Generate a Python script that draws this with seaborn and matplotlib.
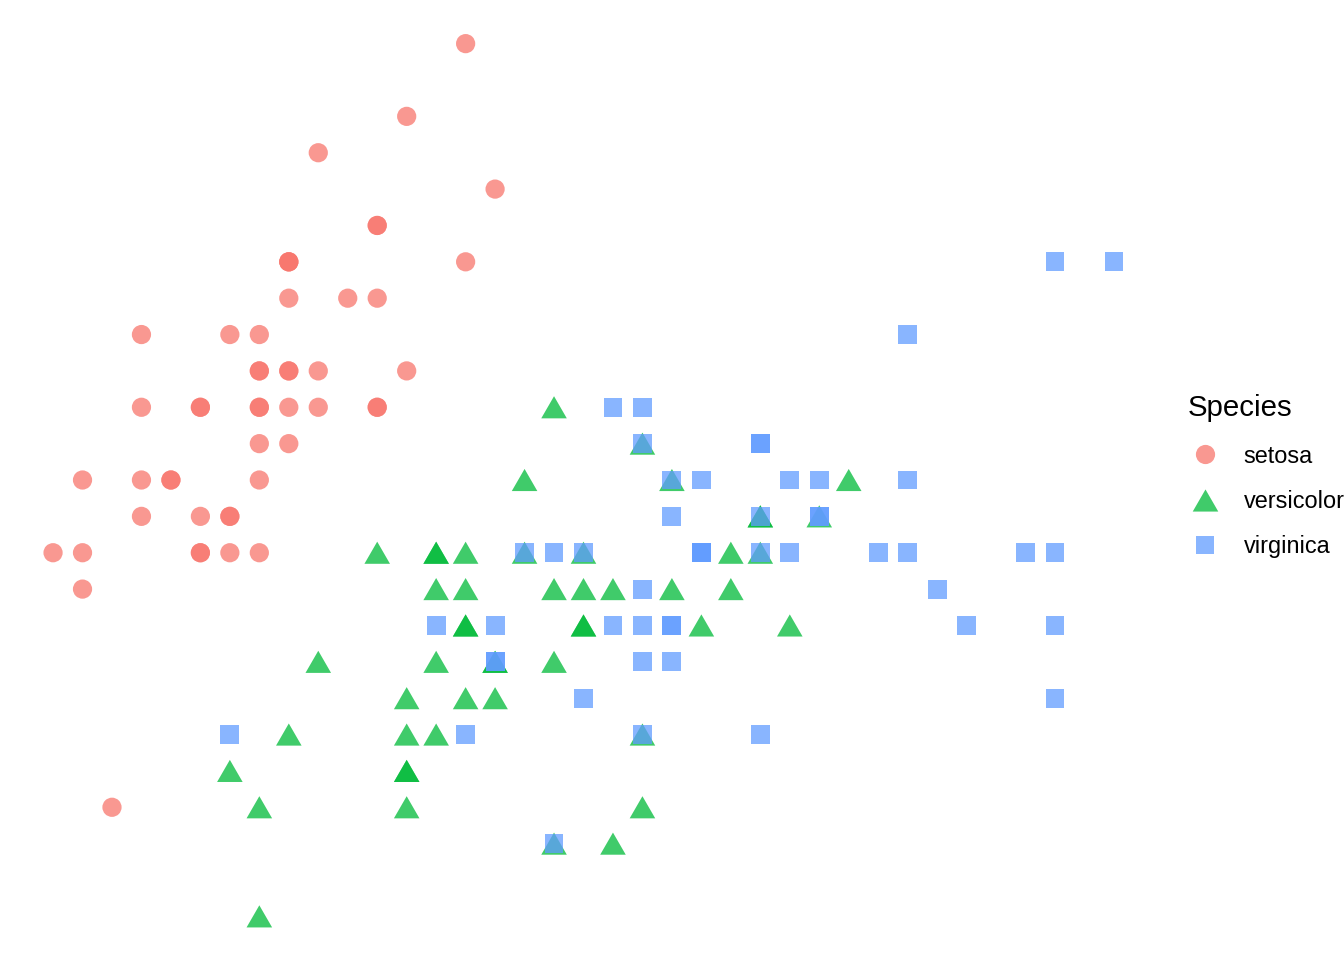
import numpy as np
import pandas as pd
import seaborn as sns
import matplotlib.pyplot as plt
from matplotlib.lines import Line2D

setosa_len = [5.1, 4.9, 4.7, 4.6, 5.0, 5.4, 4.6, 5.0, 4.4, 4.9, 5.4, 4.8, 4.8, 4.3, 5.8, 5.7, 5.4, 5.1, 5.7, 5.1,
              5.4, 5.1, 4.6, 5.1, 4.8, 5.0, 5.0, 5.2, 5.2, 4.7, 4.8, 5.4, 5.2, 5.5, 4.9, 5.0, 5.5, 4.9, 4.4, 5.1,
              5.0, 4.5, 4.4, 5.0, 5.1, 4.8, 5.1, 4.6, 5.3, 5.0]
setosa_wid = [3.5, 3.0, 3.2, 3.1, 3.6, 3.9, 3.4, 3.4, 2.9, 3.1, 3.7, 3.4, 3.0, 3.0, 4.0, 4.4, 3.9, 3.5, 3.8, 3.8,
              3.4, 3.7, 3.6, 3.3, 3.4, 3.0, 3.4, 3.5, 3.4, 3.2, 3.1, 3.4, 4.1, 4.2, 3.1, 3.2, 3.5, 3.6, 3.0, 3.4,
              3.5, 2.3, 3.2, 3.5, 3.8, 3.0, 3.8, 3.2, 3.7, 3.3]
versicolor_len = [7.0, 6.4, 6.9, 5.5, 6.5, 5.7, 6.3, 4.9, 6.6, 5.2, 5.0, 5.9, 6.0, 6.1, 5.6, 6.7, 5.6, 5.8, 6.2, 5.6,
                  5.9, 6.1, 6.3, 6.1, 6.4, 6.6, 6.8, 6.7, 6.0, 5.7, 5.5, 5.5, 5.8, 6.0, 5.4, 6.0, 6.7, 6.3, 5.6, 5.5,
                  5.5, 6.1, 5.8, 5.0, 5.6, 5.7, 5.7, 6.2, 5.1, 5.7]
versicolor_wid = [3.2, 3.2, 3.1, 2.3, 2.8, 2.8, 3.3, 2.4, 2.9, 2.7, 2.0, 3.0, 2.2, 2.9, 2.9, 3.1, 3.0, 2.7, 2.2, 2.5,
                  3.2, 2.8, 2.5, 2.8, 2.9, 3.0, 2.8, 3.0, 2.9, 2.6, 2.4, 2.4, 2.7, 2.7, 3.0, 3.4, 3.1, 2.3, 3.0, 2.5,
                  2.6, 3.0, 2.6, 2.3, 2.7, 3.0, 2.9, 2.9, 2.5, 2.8]
virginica_len = [6.3, 5.8, 7.1, 6.3, 6.5, 7.6, 4.9, 7.3, 6.7, 7.2, 6.5, 6.4, 6.8, 5.7, 5.8, 6.4, 6.5, 7.7, 7.7, 6.0,
                 6.9, 5.6, 7.7, 6.3, 6.7, 7.2, 6.2, 6.1, 6.4, 7.2, 7.4, 7.9, 6.4, 6.3, 6.1, 7.7, 6.3, 6.4, 6.0, 6.9,
                 6.7, 6.9, 5.8, 6.8, 6.7, 6.7, 6.3, 6.5, 6.2, 5.9]
virginica_wid = [3.3, 2.7, 3.0, 2.9, 3.0, 3.0, 2.5, 2.9, 2.5, 3.6, 3.2, 2.7, 3.0, 2.5, 2.8, 3.2, 3.0, 3.8, 2.6, 2.2,
                 3.2, 2.8, 2.8, 2.7, 3.3, 3.2, 2.8, 3.0, 2.8, 3.0, 2.8, 3.8, 2.8, 2.8, 2.6, 3.0, 3.4, 3.1, 3.0, 3.1,
                 3.1, 3.1, 2.7, 3.2, 3.3, 3.0, 2.5, 3.0, 3.4, 3.0]

species = ["setosa", "versicolor", "virginica"]
colors = {"setosa": "#F8766D", "versicolor": "#00BA38", "virginica": "#619CFF"}
tri = [(-1, -0.866), (1, -0.866), (0, 0.866)]
markers = {"setosa": "o", "versicolor": tri, "virginica": "s"}
sizes = {"setosa": 52, "versicolor": 92, "virginica": 50}

df = pd.DataFrame({
    "Sepal.Length": setosa_len + versicolor_len + virginica_len,
    "Sepal.Width": setosa_wid + versicolor_wid + virginica_wid,
    "Species": ["setosa"] * 50 + ["versicolor"] * 50 + ["virginica"] * 50,
})

plt.rcParams["font.family"] = ["Liberation Sans", "DejaVu Sans"]
fig = plt.figure(figsize=(7, 5), dpi=192)
ax = fig.add_axes([0.0, 0.0, 1167 / 1344, 1.0])

sns.scatterplot(data=df, x="Sepal.Length", y="Sepal.Width", hue="Species", style="Species",
                size="Species", palette=colors, markers=markers, sizes=sizes,
                alpha=0.75, linewidth=0, legend=False, ax=ax)

xmin, xmax = df["Sepal.Length"].min(), df["Sepal.Length"].max()
ymin, ymax = df["Sepal.Width"].min(), df["Sepal.Width"].max()
ax.set_xlim(xmin - 0.05 * (xmax - xmin), xmax + 0.05 * (xmax - xmin))
ax.set_ylim(ymin - 0.05 * (ymax - ymin), ymax + 0.05 * (ymax - ymin))
ax.set_axis_off()

handles = [Line2D([], [], linestyle="none", marker=markers[s], color=colors[s], alpha=0.75,
                  markeredgewidth=0, markersize=np.sqrt(sizes[s])) for s in species]
leg = fig.legend(handles, species, title="Species", loc="upper left",
                 bbox_to_anchor=(1178 / 1344, 1 - 385 / 960), frameon=False,
                 fontsize=8.8, title_fontsize=11, labelspacing=0.95, handletextpad=0.9,
                 handlelength=1.5, borderaxespad=0)
leg._legend_box.align = "left"

fig.savefig("out.png", dpi=192)
